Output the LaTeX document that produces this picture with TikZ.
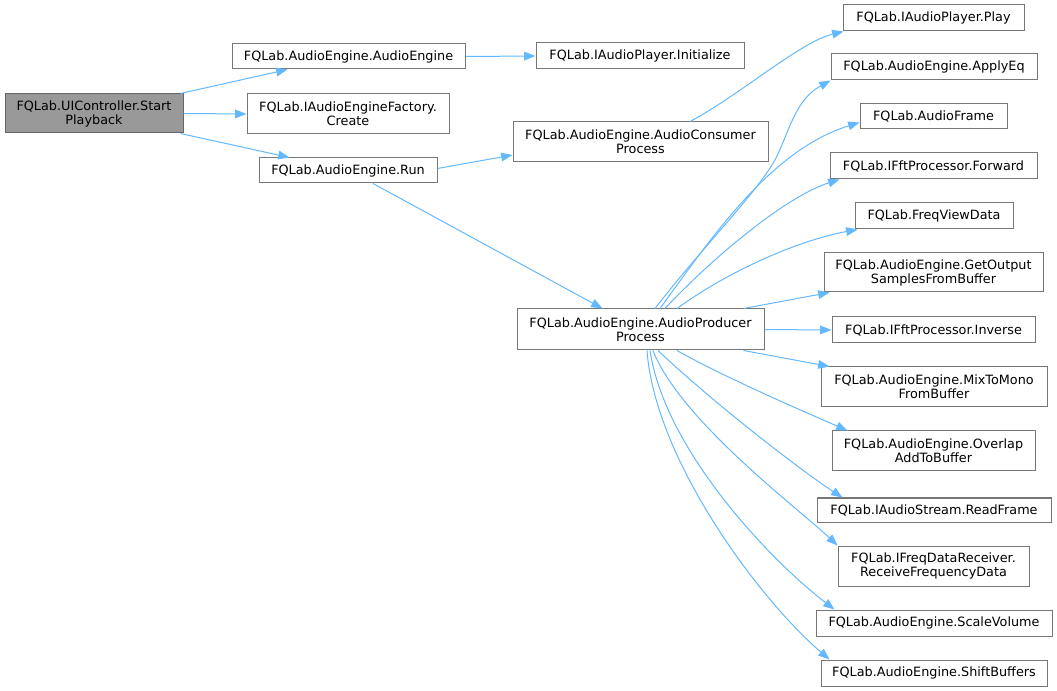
\documentclass[tikz,border=0pt]{standalone}
\usepackage{fontspec}
\setmainfont{DejaVu Sans}
\usetikzlibrary{arrows.meta,calc}
\definecolor{edgeblue}{HTML}{63B8FF}
\definecolor{boxborder}{HTML}{777777}
\definecolor{startfill}{HTML}{999999}
\newcommand\mkbox[7][]{\node[fqbox,#1,minimum width={(#5-#3)*0.75pt},minimum height={(#6-#4)*0.75pt}] (#2) at ({(#3+#5)/2},{(#4+#6)/2}) {#7};}
\begin{document}
\begin{tikzpicture}[x=0.75pt,y=-0.75pt,
  fqbox/.style={draw=boxborder,fill=white,line width=0.75pt,inner sep=0pt,align=center,
    font=\fontsize{9.6pt}{10.5pt}\selectfont,text=black},
  call/.style={draw=edgeblue,line width=0.75pt,-{Triangle[length=8.5pt,width=6.5pt]}}]
\useasboundingbox (0,0) rectangle (1057,691);
% nodes
\mkbox[fill=startfill,draw=black!60]{start}{5}{94}{183}{133}{FQLab.UIController.Start\\Playback}
\mkbox{ae}{232}{44}{465}{69}{FQLab.AudioEngine.AudioEngine}
\mkbox{fac}{247}{94}{449}{134}{FQLab.IAudioEngineFactory.\\Create}
\mkbox{run}{259}{158}{437}{183}{FQLab.AudioEngine.Run}
\mkbox{init}{536}{43}{744}{69}{FQLab.IAudioPlayer.Initialize}
\mkbox{cons}{513}{122}{768}{162}{FQLab.AudioEngine.AudioConsumer\\Process}
\mkbox{prod}{517}{309}{764}{350}{FQLab.AudioEngine.AudioProducer\\Process}
\mkbox{play}{843}{5}{1024}{31}{FQLab.IAudioPlayer.Play}
\mkbox{applyeq}{831}{54}{1037}{80}{FQLab.AudioEngine.ApplyEq}
\mkbox{aframe}{860}{104}{1007}{129}{FQLab.AudioFrame}
\mkbox{fwd}{830}{153}{1037}{179}{FQLab.IFftProcessor.Forward}
\mkbox{fvd}{855}{203}{1013}{229}{FQLab.FreqViewData}
\mkbox{getout}{824}{253}{1043}{292}{FQLab.AudioEngine.GetOutput\\SamplesFromBuffer}
\mkbox{inv}{832}{317}{1035}{343}{FQLab.IFftProcessor.Inverse}
\mkbox{mix}{821}{367}{1047}{407}{FQLab.AudioEngine.MixToMono\\FromBuffer}
\mkbox{overlap}{832}{431}{1035}{471}{FQLab.AudioEngine.Overlap\\AddToBuffer}
\mkbox{readframe}{817}{498}{1051}{522}{FQLab.IAudioStream.ReadFrame}
\mkbox{receive}{838}{546}{1029}{586}{FQLab.IFreqDataReceiver.\\ReceiveFrequencyData}
\mkbox{scale}{816}{610}{1052}{636}{FQLab.AudioEngine.ScaleVolume}
\mkbox{shift}{821}{660}{1047}{686}{FQLab.AudioEngine.ShiftBuffers}
% edges
\draw[call] ($(start.north east)+(-3,0)$) -- ($(ae.south west)+(56,0)$);
\draw[call] (start.east) -- (fac.west);
\draw[call] ($(start.south east)+(-3,0)$) -- ($(run.north west)+(31,0)$);
\draw[call] (ae.east) -- (init.west);
\draw[call] ($(run.east)+(0,-2)$) -- ($(cons.west)+(0,13)$);
\draw[call] ($(run.south)+(25,0)$) -- ($(prod.north west)+(86,0)$);
\draw[call] ($(cons.north)+(49.5,0)$) .. controls (740,95) and (800,42) .. ($(play.south west)+(1,0)$);
\draw[call] ($(prod.north)+(14.5,0)$) .. controls (700,250) and (755,195) .. (775,160)
  .. controls (790,130) and (795,100) .. (applyeq.south west);
\draw[call] ($(prod.north)+(19.5,0)$) .. controls (710,240) and (770,150) .. ($(aframe.west)+(0,6)$);
\draw[call] ($(prod.north)+(24.5,0)$) .. controls (720,250) and (790,195) .. ($(fwd.south west)+(10,0)$);
\draw[call] ($(prod.north)+(36.5,0)$) .. controls (730,270) and (800,240) .. ($(fvd.south west)+(3,0)$);
\draw[call] ($(prod.north east)+(-21,0)$) -- ($(getout.south west)+(6,0)$);
\draw[call] (prod.east) -- (inv.west);
\draw[call] ($(prod.south east)+(-21,0)$) -- ($(mix.north west)+(9,0)$);
\draw[call] ($(prod.south)+(36.5,0)$) .. controls (720,375) and (800,410) .. ($(overlap.north west)+(16,0)$);
\draw[call] ($(prod.south)+(17.5,0)$) .. controls (710,400) and (800,470) .. ($(readframe.north west)+(26,0)$);
\draw[call] ($(prod.south)+(12.5,0)$) .. controls (680,420) and (800,510) .. (receive.north west);
\draw[call] ($(prod.south)+(9.5,0)$) .. controls (665,450) and (770,560) .. ($(scale.north west)+(19,0)$);
\draw[call] ($(prod.south)+(6.5,0)$) .. controls (655,460) and (760,600) .. ($(shift.north west)+(9,0)$);
\end{tikzpicture}
\end{document}
